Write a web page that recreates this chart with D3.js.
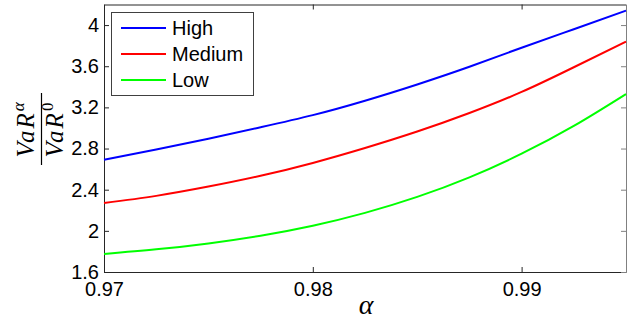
<!DOCTYPE html>
<html>
<head>
<meta charset="utf-8">
<script src="https://cdn.jsdelivr.net/npm/d3@7"></script>
<style>
  body { margin: 0; background: #fff; }
  text { font-family: "Liberation Sans", Arial, sans-serif; }
</style>
</head>
<body>
<div id="chart"></div>
<script>
// alpha grid and the three curves
var alphas = [0.97, 0.9725, 0.975, 0.9775, 0.98, 0.9825, 0.985, 0.9875, 0.99, 0.9925, 0.995];
var high   = [2.69, 2.79, 2.895, 3.007, 3.125, 3.265, 3.423, 3.595, 3.78, 3.96, 4.14];
var medium = [2.27, 2.34, 2.43, 2.535, 2.66, 2.805, 2.965, 3.145, 3.35, 3.59, 3.84];
var low    = [1.775, 1.82, 1.878, 1.953, 2.05, 2.175, 2.33, 2.52, 2.75, 3.02, 3.33];

var seriesNames = ["High", "Medium", "Low"];
var seriesColors = ["#0000ff", "#ff0000", "#00ff00"];

var xTicks = [0.97, 0.98, 0.99];
var xTickLabels = ["0.97", "0.98", "0.99"];
var yTicks = [1.6, 2, 2.4, 2.8, 3.2, 3.6, 4];
var yTickLabels = ["1.6", "2", "2.4", "2.8", "3.2", "3.6", "4"];

// dimensions
var W = 644, H = 322;
var margin = {top: 4.5, right: 18, bottom: 50, left: 104};

var svg = d3.select("#chart")
    .append("svg")
        .attr("width", W)
        .attr("height", H);

var x = d3.scaleLinear()
    .domain([0.97, 0.995])
    .range([margin.left, W - margin.right]);

var y = d3.scaleLinear()
    .domain([1.6, 4.2])
    .range([H - margin.bottom, margin.top]);

// axes, ticks pointing inwards on all four sides
function styleAxis(g, color) {
    g.selectAll("path").attr("stroke", color).attr("stroke-width", 1);
    g.selectAll("line").attr("stroke", color);
    g.selectAll("text").attr("fill", "#000").style("font-size", "20px");
}

svg.append("g")
    .attr("transform", "translate(0," + (H - margin.bottom) + ")")
    .call(d3.axisBottom(x).tickValues(xTicks).tickSize(-5).tickSizeOuter(0).tickPadding(10)
        .tickFormat(function(d, i) { return xTickLabels[i]; }))
    .call(styleAxis, "#262626");

svg.append("g")
    .attr("transform", "translate(" + margin.left + ",0)")
    .call(d3.axisLeft(y).tickValues(yTicks).tickSize(-5).tickSizeOuter(0).tickPadding(5)
        .tickFormat(function(d, i) { return yTickLabels[i]; }))
    .call(styleAxis, "#262626");

svg.append("g")
    .attr("transform", "translate(0," + margin.top + ")")
    .call(d3.axisTop(x).tickValues(xTicks).tickSize(-5).tickSizeOuter(0).tickFormat(""))
    .call(styleAxis, "#262626");

svg.append("g")
    .attr("transform", "translate(" + (W - margin.right) + ",0)")
    .call(d3.axisRight(y).tickValues(yTicks).tickSize(-5).tickSizeOuter(0).tickFormat(""))
    .call(styleAxis, "#808080");

// lines
var seriesData = [high, medium, low];
var line = d3.line()
    .x(function(d, i) { return x(alphas[i]); })
    .y(function(d) { return y(d); })
    .curve(d3.curveNatural);

svg.append("g")
    .selectAll("path")
    .data(seriesData)
    .enter()
    .append("path")
        .attr("d", line)
        .attr("fill", "none")
        .attr("stroke", function(d, i) { return seriesColors[i]; })
        .attr("stroke-width", 2);

// legend
var legend = svg.append("g");
legend.append("rect")
    .attr("x", 111.5).attr("y", 12.5)
    .attr("width", 142).attr("height", 83)
    .attr("fill", "#fff")
    .attr("stroke", "#404040")
    .attr("stroke-width", 1);

var ly = d3.scalePoint().domain(seriesNames).range([28, 80]);

legend.selectAll("line")
    .data(seriesNames)
    .enter()
    .append("line")
        .attr("x1", 121).attr("x2", 166)
        .attr("y1", function(d) { return ly(d); })
        .attr("y2", function(d) { return ly(d); })
        .attr("stroke", function(d, i) { return seriesColors[i]; })
        .attr("stroke-width", 2);

legend.selectAll("text")
    .data(seriesNames)
    .enter()
    .append("text")
        .attr("x", 172)
        .attr("y", function(d) { return ly(d); })
        .attr("dy", "0.36em")
        .style("font-size", "20px")
        .text(function(d) { return d; });

// axis labels (math style)
var mathFont = "'Liberation Serif', 'Times New Roman', serif";

svg.append("text")
    .attr("x", 366)
    .attr("y", 314)
    .attr("text-anchor", "middle")
    .style("font-family", mathFont)
    .style("font-style", "italic")
    .style("font-size", "28px")
    .text("α");

var ylab = svg.append("g")
    .attr("transform", "translate(41.5,129) rotate(-90)");

var num = ylab.append("text")
    .attr("x", 0).attr("y", -8)
    .attr("text-anchor", "middle")
    .style("font-family", mathFont)
    .style("font-size", "25px")
    .style("font-style", "italic")
    .style("letter-spacing", "2px");
num.append("tspan").text("VaR");
num.append("tspan").attr("dy", -10).style("font-size", "17px").text("α");

ylab.append("line")
    .attr("x1", -36).attr("x2", 36)
    .attr("y1", 0).attr("y2", 0)
    .attr("stroke", "#000")
    .attr("stroke-width", 1.2);

var den = ylab.append("text")
    .attr("x", 0).attr("y", 21.5)
    .attr("text-anchor", "middle")
    .style("font-family", mathFont)
    .style("font-size", "25px")
    .style("font-style", "italic")
    .style("letter-spacing", "2px");
den.append("tspan").text("VaR");
den.append("tspan").attr("dy", -10).style("font-size", "17px").style("font-style", "normal").text("0");
</script>
</body>
</html>
